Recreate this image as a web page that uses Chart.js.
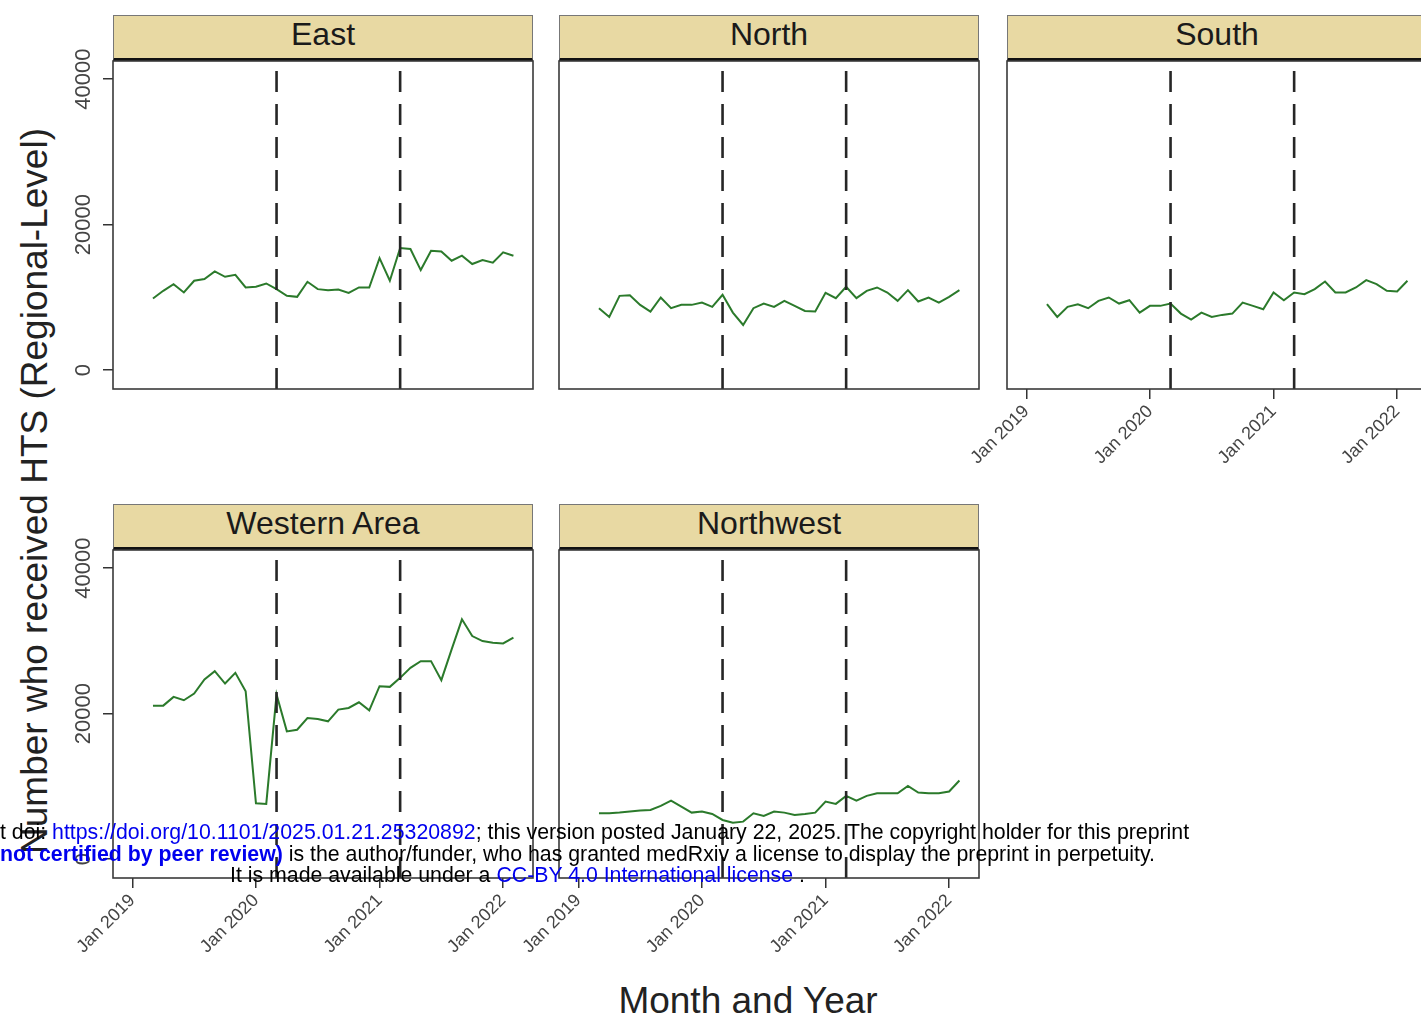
<!DOCTYPE html>
<html>
<head>
<meta charset="utf-8">
<script src="https://cdn.jsdelivr.net/npm/chart.js@4.4.1/dist/chart.umd.min.js"></script>
<style>
html, body { margin: 0; padding: 0; background: #fff; }
body { width: 1421px; height: 1025px; position: relative; overflow: hidden; font-family: "Liberation Sans", Arial, sans-serif; }
canvas.panel { position: absolute; }
.strip {
    position: absolute; box-sizing: border-box; width: 420px; height: 46px;
    background: #e8d9a3; border: 1px solid #777; border-bottom: 3px solid #111;
    text-align: center; font-size: 32px; line-height: 36px; color: #1a1a1a;
}
.ytitle {
    position: absolute; left: 34px; top: 491px; white-space: nowrap;
    font-size: 37px; line-height: 37px; color: #222;
    transform: translate(-50%, -50%) rotate(-90deg);
}
.xtitle {
    position: absolute; left: 748px; top: 982px; white-space: nowrap;
    font-size: 37px; line-height: 37px; color: #222;
    transform: translateX(-50%);
}
.wm { position: absolute; white-space: nowrap; font-size: 21.3px; line-height: 21.5px; color: #000; z-index: 5; }
.wm .blue { color: #0000ee; }
.wm b.blue { font-weight: bold; }
</style>
</head>
<body>

<div class="ytitle">Number who received HTS (Regional-Level)</div>
<div class="xtitle">Month and Year</div>

<div class="wm" style="left:0; top:822px;">t doi: <span class="blue">https://doi.org/10.1101/2025.01.21.25320892</span>; this version posted January 22, 2025. The copyright holder for this preprint</div>
<div class="wm" style="left:0; top:844px;"><b class="blue">not certified by peer review)</b> is the author/funder, who has granted medRxiv a license to display the preprint in perpetuity.</div>
<div class="wm" style="left:230px; top:865px;">It is made available under a <span class="blue">CC-BY 4.0 International license</span> .</div>

<script>
// months of the series (Mar 2019 - Feb 2022)
const months = ['2019-03','2019-04','2019-05','2019-06','2019-07','2019-08','2019-09','2019-10','2019-11','2019-12',
    '2020-01','2020-02','2020-03','2020-04','2020-05','2020-06','2020-07','2020-08','2020-09','2020-10','2020-11','2020-12',
    '2021-01','2021-02','2021-03','2021-04','2021-05','2021-06','2021-07','2021-08','2021-09','2021-10','2021-11','2021-12',
    '2022-01','2022-02'];

const east = [9840, 10900, 11820, 10670, 12280, 12510, 13560, 12830, 13100, 11360,
    11450, 11910, 11130, 10210, 10070, 12140, 11130, 10990, 11080, 10620, 11360, 11360,
    15400, 12280, 16780, 16650, 13750, 16420, 16320, 15040, 15730, 14580, 15130, 14760,
    16190, 15730];
const north = [8510, 7310, 10210, 10300, 8970, 8050, 9980, 8510, 8970, 8970,
    9290, 8690, 10350, 7910, 6210, 8510, 9150, 8690, 9520, 8830, 8140, 8050,
    10620, 9890, 11450, 9890, 10900, 11360, 10670, 9520, 10990, 9430, 9980, 9290,
    10070, 10990];
const south = [9060, 7310, 8690, 9060, 8510, 9520, 9980, 9150, 9610, 7910,
    8830, 8830, 9150, 7770, 6940, 7910, 7310, 7590, 7770, 9290, 8830, 8370,
    10670, 9610, 10670, 10440, 11130, 12180, 10670, 10670, 11360, 12370, 11820, 10900,
    10810, 12280];
const westernArea = [21100, 21100, 22300, 21840, 22760, 24690, 25840, 24140, 25610, 23080,
    7680, 7590, 22620, 17560, 17790, 19400, 19270, 18940, 20550, 20780, 21560, 20460,
    23770, 23680, 24920, 26300, 27220, 27220, 24600, 28830, 32970, 30670, 29980, 29750,
    29660, 30440];
const northwest = [6300, 6300, 6390, 6530, 6670, 6760, 7310, 8050, 7220, 6390,
    6530, 6210, 5380, 5010, 5150, 6300, 5930, 6530, 6390, 6070, 6210, 6390,
    7910, 7590, 8690, 8050, 8690, 9060, 9060, 9060, 10070, 9150, 9060, 9060,
    9290, 10810];

const xTickMonths = ['2019-01', '2020-01', '2021-01', '2022-01'];
const xTickLabels = ['Jan 2019', 'Jan 2020', 'Jan 2021', 'Jan 2022'];
const yTicks = [0, 20000, 40000];
const yTickLabels = ['0', '20000', '40000'];
const interventionMonths = ['2020-03', '2021-03']; // dashed lines
const xRange = [-1.88, 38.9];
const yRange = [-2600, 42500];

// month string -> months since Jan 2019
function monthIndex(s) {
    const [y, m] = s.split('-').map(Number);
    return (y - 2019) * 12 + (m - 1);
}

const FONT = '"Liberation Sans", Arial, sans-serif';

const panelBox = {
    id: 'panelBox',
    afterDraw(chart) {
        const a = chart.chartArea;
        const c = chart.ctx;
        c.save();
        c.strokeStyle = '#3a3a3a';
        c.lineWidth = 1.6;
        c.strokeRect(a.left, a.top, a.right - a.left, a.bottom - a.top);
        c.restore();
    }
};

const panels = [
    { name: 'East', values: east, left: 113, top: 61, yLabels: true, xLabels: false },
    { name: 'North', values: north, left: 559, top: 61, yLabels: false, xLabels: false },
    { name: 'South', values: south, left: 1007, top: 61, yLabels: false, xLabels: true },
    { name: 'Western Area', values: westernArea, left: 113, top: 550, yLabels: true, xLabels: true },
    { name: 'Northwest', values: northwest, left: 559, top: 550, yLabels: false, xLabels: true },
];

const PAD_TOP = 24;

panels.forEach(p => {
    const strip = document.createElement('div');
    strip.className = 'strip';
    strip.style.left = p.left + 'px';
    strip.style.top = (p.top - 46) + 'px';
    strip.textContent = p.name;
    document.body.appendChild(strip);

    const canvas = document.createElement('canvas');
    canvas.className = 'panel';
    canvas.width = 492;
    canvas.height = 428 + PAD_TOP;
    canvas.style.left = (p.left - 70) + 'px';
    canvas.style.top = (p.top - PAD_TOP) + 'px';
    document.body.appendChild(canvas);

    const datasets = [{
        data: months.map((m, i) => ({ x: monthIndex(m), y: p.values[i] })),
        borderColor: '#2b7a2b',
        borderWidth: 2,
        pointRadius: 0,
        tension: 0,
        order: 1
    }];
    interventionMonths.forEach(m => {
        datasets.push({
            data: [{ x: monthIndex(m), y: yRange[0] }, { x: monthIndex(m), y: yRange[1] }],
            borderColor: '#262626',
            borderWidth: 2.6,
            borderDash: [21, 12],
            pointRadius: 0,
            order: 0
        });
    });

    new Chart(canvas, {
        type: 'line',
        data: { datasets: datasets },
        options: {
            responsive: false,
            animation: false,
            layout: { padding: { left: 2, right: 2, top: PAD_TOP, bottom: 2 } },
            plugins: { legend: { display: false }, tooltip: { enabled: false } },
            scales: {
                x: {
                    type: 'linear',
                    min: xRange[0],
                    max: xRange[1],
                    afterBuildTicks: s => { s.ticks = xTickMonths.map(m => ({ value: monthIndex(m) })); },
                    afterFit: s => { s.height = 98; },
                    grid: { display: p.xLabels, drawOnChartArea: false, drawTicks: true, tickLength: 10, color: '#333', lineWidth: 1.5 },
                    border: { display: false },
                    ticks: {
                        display: p.xLabels, autoSkip: false, minRotation: 45, maxRotation: 45, padding: 2,
                        color: '#444', font: { family: FONT, size: 18 },
                        callback: (v, i) => xTickLabels[i]
                    }
                },
                y: {
                    type: 'linear',
                    min: yRange[0],
                    max: yRange[1],
                    afterBuildTicks: s => { s.ticks = yTicks.map(v => ({ value: v })); },
                    afterFit: s => { s.width = 68; },
                    grid: { display: p.yLabels, drawOnChartArea: false, drawTicks: true, tickLength: 10, color: '#333', lineWidth: 1.5 },
                    border: { display: false },
                    ticks: {
                        display: p.yLabels, minRotation: 90, maxRotation: 90, crossAlign: 'center', padding: -12,
                        color: '#444', font: { family: FONT, size: 22 },
                        callback: (v, i) => yTickLabels[i]
                    }
                }
            }
        },
        plugins: [panelBox]
    });
});
</script>
</body>
</html>
